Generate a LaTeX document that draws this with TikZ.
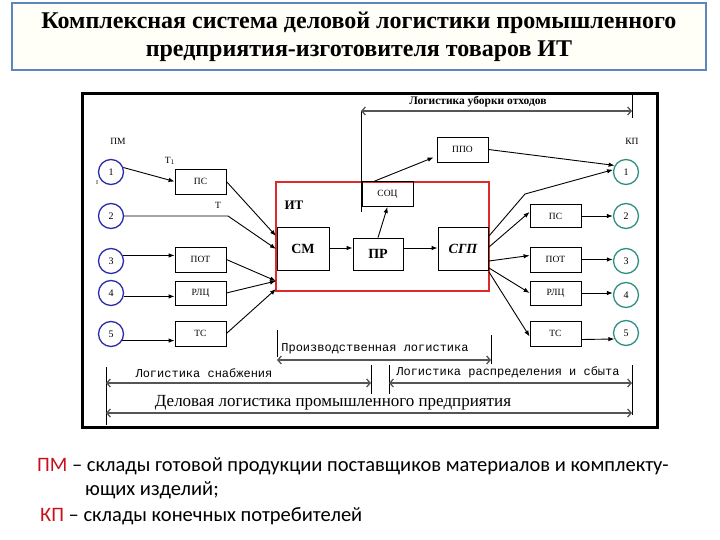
\documentclass[tikz,border=0pt]{standalone}
\usepackage{fontspec}
\setmainfont{Liberation Serif}
\newfontfamily\monof{Liberation Mono}
\newfontfamily\legf{Carlito}
\usetikzlibrary{arrows.meta,calc}
\definecolor{tblue}{HTML}{5B86BE}
\definecolor{tfill}{HTML}{FFFFF8}
\definecolor{cred}{HTML}{E02A2A}
\definecolor{lred}{HTML}{C8101A}
\definecolor{cblue}{HTML}{2B2DA8}
\definecolor{cteal}{HTML}{2F8F82}
\definecolor{bgray}{HTML}{555555}
\begin{document}
\begin{tikzpicture}[x=1pt,y=-1pt,
  box/.style={draw,line width=0.8pt,minimum width=51pt,minimum height=25pt,inner sep=0pt,font=\fontsize{9.5}{10}\selectfont},
  bbox/.style={draw,line width=0.8pt,inner sep=0pt,font=\fontsize{14}{14}\selectfont\bfseries},
  lc/.style={circle,draw=cblue,line width=1.3pt,minimum size=25pt,inner sep=0pt,font=\fontsize{10}{10}\selectfont},
  rc/.style={circle,draw=cteal,line width=1.3pt,minimum size=25pt,inner sep=0pt,font=\fontsize{10}{10}\selectfont},
  arr/.style={-{Latex[length=6pt,width=4.5pt]},line width=0.9pt},
  barr/.style={{Straight Barb[length=3.5pt,width=8pt]}-{Straight Barb[length=3.5pt,width=8pt]},line width=1.3pt,draw=bgray},
  tickl/.style={line width=0.7pt},
  lbl/.style={inner sep=0pt,font=\fontsize{9.5}{10}\selectfont},
  mlbl/.style={inner sep=0pt,font=\fontsize{12}{12}\selectfont\monof},
  leg/.style={anchor=base west,inner sep=0pt,font=\fontsize{20.5}{20.5}\selectfont\legf}
]
\useasboundingbox (0,0) rectangle (720,540);
% title
\node[draw=tblue,line width=2pt,fill=tfill,minimum width=694pt,minimum height=67pt,inner sep=0pt,align=center,
      font=\fontsize{24}{28}\selectfont\bfseries] (title) at (359,36.5)
  {Комплексная система деловой логистики промышленного\\предприятия-изготовителя товаров ИТ};
% frame
\draw[line width=3pt] (82,94) rectangle (657,427);

% left circles
\node[lc] (lc1) at (111,172) {1};
\node[lc] (lc2) at (111,216) {2};
\node[lc] (lc3) at (111,261) {3};
\node[lc] (lc4) at (111,293) {4};
\node[lc] (lc5) at (111,334) {5};
\node[lbl] (pm) at (118,141) {ПМ};
% left boxes
\node[box] (ps1) at (200.5,181.5) {ПС};
\node[box] (pot1) at (200.5,259.5) {ПОТ};
\node[box,minimum height=24pt] (rlc1) at (200.5,293) {РЛЦ};
\node[box] (ts1) at (200.5,333.5) {ТС};
\node[lbl] (t1) at (170,161) {Т$_1$};
\node[inner sep=0pt,font=\fontsize{6}{6}\selectfont] (i1) at (97,183) {I};
\node[lbl] (t2) at (218,205) {Т};

% IT block
\node[draw=cred,line width=1.8pt,minimum width=213pt,minimum height=109pt,inner sep=0pt] (it) at (382.5,236.5) {};
\node[inner sep=0pt,font=\fontsize{13}{13}\selectfont\bfseries] (itl) at (294,205) {ИТ};
\node[bbox,minimum width=52pt,minimum height=43pt] (sm) at (303,248.5) {СМ};
\node[bbox,minimum width=50pt,minimum height=32pt] (pr) at (378,254) {ПР};
\node[bbox,minimum width=50pt,minimum height=43pt,font=\fontsize{14}{14}\selectfont\bfseries\itshape] (sgp) at (463,248.5) {СГП};
\node[box] (soc) at (387.5,194) {СОЦ};
\node[box] (ppo) at (462.5,149.5) {ППО};

% right circles and boxes
\node[rc] (rc1) at (626,172) {1};
\node[rc] (rc2) at (626,216) {2};
\node[rc] (rc3) at (626,261) {3};
\node[rc] (rc4) at (626,295) {4};
\node[rc] (rc5) at (626,333) {5};
\node[lbl] (kp) at (632,141) {КП};
\node[box,minimum height=23pt] (ps2) at (555.5,216) {ПС};
\node[box] (pot2) at (555.5,259.5) {ПОТ};
\node[box,minimum height=24pt] (rlc2) at (555.5,293) {РЛЦ};
\node[box] (ts2) at (555.5,333.5) {ТС};

% entry / exit points on the IT block
\coordinate (in1) at (276,236);
\coordinate (in2) at (276,249);
\coordinate (in3) at (276,281);
\coordinate (in4) at (276,289);
\coordinate (b2) at (228,216);
\coordinate (out1) at (489,236);
\coordinate (out2) at (489,247);
\coordinate (out3) at (489,261);
\coordinate (out4) at (489,268);
\coordinate (out5) at (489,272);
\coordinate (b1) at (525,194);

% left connectors
\draw[arr] (lc1.20) -- (ps1.west);
\draw[arr] (lc2.east) -- (b2) -- (in2);
\draw[arr] (lc3.25) -- (lc3.25 -| pot1.west);
\draw[arr] (lc4.-15) -- (lc4.-15 -| rlc1.west);
\draw[arr] (lc5.-30) -- (lc5.-30 -| ts1.west);
\draw[arr] (ps1.east) -- (in1);
\draw[arr] (pot1.east) -- (in3);
\draw[arr] (rlc1.east) -- (in3);
\draw[arr] (ts1.east) -- (in4);

% inner connectors
\draw[arr] (sm.east |- 0,248) -- (pr.west |- 0,248);
\draw[arr] (pr.east |- 0,248) -- (sgp.west |- 0,248);
\draw[arr] (pr.north) -- (soc.south);
\draw[arr] ($(soc.north west)+(13,0)$) -- ($(ppo.south west)+(-3,-5)$);
\draw[arr] (ppo.east) -- (rc1.150);

% right connectors
\draw[arr] (out1) -- (b1) -- (rc1.170);
\draw[arr] (out2) -- ($(ps2.west)+(0,-4)$);
\draw[arr] (out3) -- ($(pot2.west)+(0,-4)$);
\draw[arr] (out4) -- (rlc2.west);
\draw[arr] (out5) -- ($(ts2.west)+(0,3)$);
\draw[arr] (ps2.east) -- (rc2.west);
\draw[arr] (pot2.east) -- (pot2.east -| rc3.west);
\draw[arr] (rlc2.east) -- (rlc2.east -| rc4.west);
\draw[arr] ($(ts2.east)+(0,6)$) -- ($(rc5.west)+(1.5,6)$);

% waste logistics bracket
\coordinate (w1) at (361,111);
\coordinate (w2) at (632,111);
\draw[tickl] (361,212) -- (w1);
\draw[tickl] (632,95) -- (632,118);
\draw[barr] (w1) -- (w2);
\node[inner sep=0pt,font=\fontsize{11.5}{12}\selectfont\bfseries] (wl) at (478,102) {Логистика уборки отходов};

% production logistics
\coordinate (p1) at (277,360);
\coordinate (p2) at (491,360);
\draw[tickl] (277,330) -- (277,357);
\draw[tickl] (491,335) -- (491,364);
\draw[barr] (p1) -- (p2);
\node[mlbl] (pl) at (375,349) {Производственная логистика};

% supply logistics
\coordinate (s1) at (106,383);
\coordinate (s2) at (371,383);
\draw[tickl] (106,367) -- (106,425);
\draw[tickl] (371,365) -- (371,394);
\draw[barr] (s1) -- (s2);
\node[mlbl] (sl) at (204,373) {Логистика снабжения};

% distribution logistics
\coordinate (d1) at (389,383);
\coordinate (d2) at (632,383);
\draw[tickl] (389,365) -- (389,394);
\draw[tickl] (632,365) -- (632,415);
\draw[barr] (d1) -- (d2);
\node[mlbl] (dl) at (508,372) {Логистика распределения и сбыта};

% business logistics
\coordinate (g1) at (106,413);
\coordinate (g2) at (632,413);
\draw[barr] (g1) -- (g2);
\node[inner sep=0pt,font=\fontsize{17}{17}\selectfont] (gl) at (333,403) {Деловая логистика промышленного предприятия};

% legend
\node[leg] (leg1) at (37,471)
  {{\color{lred}ПМ} – склады готовой продукции поставщиков материалов и комплекту-};
\node[leg] (leg2) at (85,495) {ющих изделий;};
\node[leg] (leg3) at (40,521) {{\color{lred}КП} – склады конечных потребителей};
\end{tikzpicture}
\end{document}
